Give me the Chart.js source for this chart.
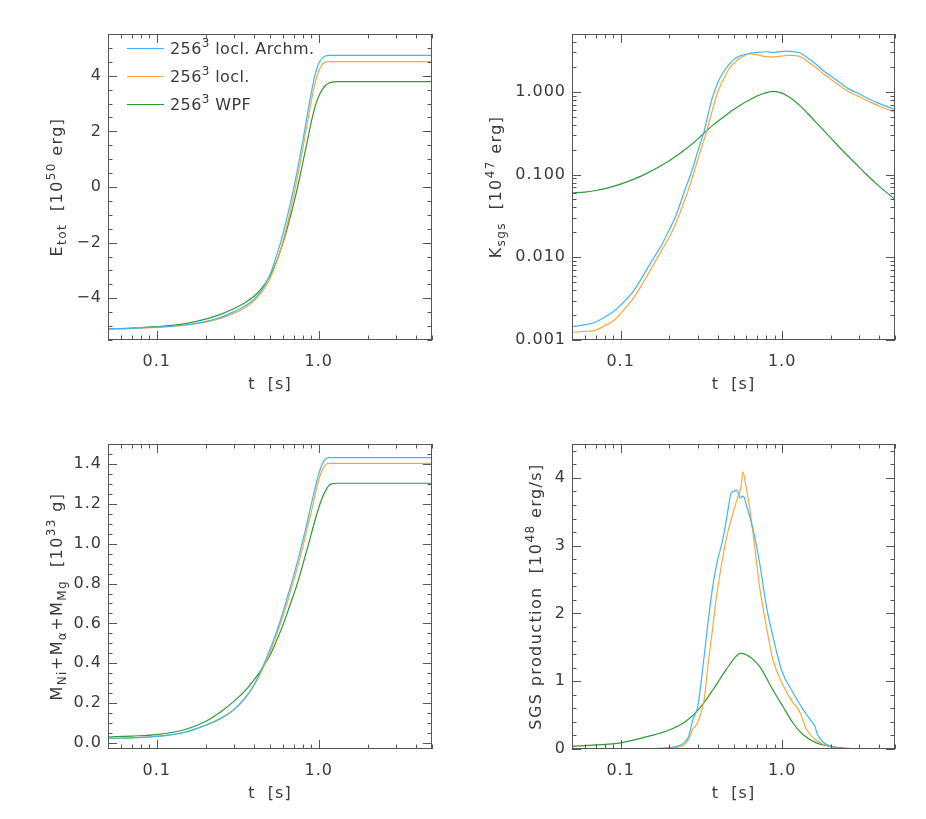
<!DOCTYPE html>
<html>
<head>
<meta charset="utf-8">
<script src="https://cdn.jsdelivr.net/npm/chart.js@4.4.1/dist/chart.umd.min.js"></script>
<style>
  body { margin: 0; background: #fff; }
  #wrap { position: relative; width: 926px; height: 819px; }
  canvas { position: absolute; }
</style>
</head>
<body>
<div id="wrap">
  <canvas id="cE" width="463" height="400" style="left:0;top:0"></canvas>
  <canvas id="cK" width="463" height="400" style="left:463px;top:0"></canvas>
  <canvas id="cM" width="463" height="419" style="left:0;top:400px"></canvas>
  <canvas id="cS" width="463" height="419" style="left:463px;top:400px"></canvas>
</div>
<script>
// series names and colours
const runLabels = ['256^{3} locl. Archm.', '256^{3} locl.', '256^{3} WPF'];
const runColors = ['#3db8f5', '#ffa53c', '#2f9a33'];

// time grid for total energy and burnt mass (s)
const tGrid = [0.05, 0.07, 0.1, 0.15, 0.2, 0.25, 0.3, 0.35, 0.4, 0.45, 0.5, 0.55, 0.6, 0.65, 0.7,
               0.75, 0.8, 0.85, 0.9, 0.95, 1.0, 1.05, 1.1, 1.15, 1.2, 1.3, 1.5, 2, 3, 5];

// E_tot [1e50 erg]
const eArchm = [-5.10, -5.08, -5.04, -4.96, -4.84, -4.68, -4.48, -4.28, -4.02, -3.66, -3.15, -2.45, -1.70, -0.88, -0.05,
                0.82, 1.70, 2.60, 3.40, 4.05, 4.45, 4.63, 4.71, 4.73, 4.73, 4.73, 4.73, 4.73, 4.73, 4.73];
const eLocl  = [-5.10, -5.08, -5.05, -4.97, -4.86, -4.72, -4.54, -4.34, -4.08, -3.74, -3.30, -2.68, -1.95, -1.15, -0.32,
                0.55, 1.42, 2.30, 3.10, 3.75, 4.17, 4.40, 4.49, 4.51, 4.51, 4.51, 4.51, 4.51, 4.51, 4.51];
const eWPF   = [-5.10, -5.07, -5.02, -4.91, -4.75, -4.57, -4.37, -4.16, -3.92, -3.60, -3.20, -2.66, -2.02, -1.32, -0.60,
                0.15, 0.92, 1.65, 2.35, 2.90, 3.26, 3.50, 3.65, 3.73, 3.77, 3.79, 3.79, 3.79, 3.79, 3.79];

// M_Ni + M_alpha + M_Mg [1e33 g]
const mArchm = [0.023, 0.026, 0.033, 0.055, 0.090, 0.125, 0.170, 0.225, 0.295, 0.380, 0.470, 0.560, 0.655, 0.750, 0.840,
                0.930, 1.020, 1.110, 1.200, 1.280, 1.350, 1.400, 1.425, 1.432, 1.432, 1.432, 1.432, 1.432, 1.432, 1.432];
const mLocl  = [0.023, 0.026, 0.033, 0.054, 0.088, 0.122, 0.167, 0.222, 0.290, 0.370, 0.455, 0.545, 0.635, 0.725, 0.815,
                0.900, 0.990, 1.080, 1.160, 1.245, 1.320, 1.370, 1.395, 1.403, 1.403, 1.403, 1.403, 1.403, 1.403, 1.403];
const mWPF   = [0.030, 0.035, 0.042, 0.068, 0.108, 0.158, 0.210, 0.262, 0.318, 0.377, 0.440, 0.515, 0.590, 0.670, 0.745,
                0.820, 0.900, 0.975, 1.050, 1.120, 1.180, 1.230, 1.265, 1.290, 1.300, 1.303, 1.303, 1.303, 1.303, 1.303];

// K_sgs [1e47 erg]
const tK = [0.05, 0.06, 0.07, 0.08, 0.09, 0.1, 0.12, 0.14, 0.16, 0.18, 0.2, 0.22, 0.25, 0.28, 0.3, 0.33, 0.35, 0.37,
            0.4, 0.43, 0.47, 0.5, 0.55, 0.63, 0.7, 0.8, 0.88, 0.95, 1.06, 1.15, 1.28, 1.45, 1.63, 1.8, 2.07, 2.4,
            2.62, 3.0, 3.33, 4.0, 5.0];
const kArchm = [0.00145, 0.00152, 0.00165, 0.0019, 0.0022, 0.00264, 0.0039, 0.0063, 0.0098, 0.0142, 0.0214, 0.032,
                0.065, 0.12, 0.19, 0.34, 0.56, 0.85, 1.3, 1.7, 2.15, 2.45, 2.72, 2.91, 3.0, 3.05, 2.98, 3.04, 3.1,
                3.08, 2.97, 2.55, 2.14, 1.8, 1.48, 1.2, 1.07, 0.95, 0.85, 0.72, 0.61];
const kLocl  = [0.00124, 0.00127, 0.00131, 0.0015, 0.0017, 0.0021, 0.0032, 0.0052, 0.0082, 0.0122, 0.0175, 0.026,
                0.05, 0.095, 0.15, 0.27, 0.4, 0.6, 1.0, 1.38, 1.9, 2.2, 2.55, 2.9, 2.8, 2.66, 2.63, 2.68, 2.75,
                2.76, 2.68, 2.3, 1.95, 1.65, 1.35, 1.1, 0.99, 0.87, 0.79, 0.67, 0.566];
const kWPF   = [0.06, 0.0614, 0.0641, 0.0676, 0.0718, 0.0765, 0.0874, 0.0998, 0.114, 0.1296, 0.147, 0.166, 0.2, 0.238, 0.268,
                0.32, 0.355, 0.39, 0.44, 0.49, 0.56, 0.61, 0.69, 0.8, 0.89, 0.98, 1.01, 0.99, 0.91, 0.82, 0.69,
                0.54, 0.425, 0.345, 0.258, 0.19, 0.16, 0.123, 0.1, 0.072, 0.05];

// SGS production [1e48 erg/s]
const tSArchm = [0.05, 0.1, 0.15, 0.2, 0.23, 0.25, 0.265, 0.28, 0.3, 0.323, 0.345, 0.372, 0.4, 0.43, 0.46, 0.484,
                 0.5, 0.52, 0.535, 0.55, 0.565, 0.58, 0.6, 0.63, 0.66, 0.725, 0.8, 0.877, 1.0, 1.17, 1.35, 1.55,
                 1.6, 1.65, 1.8, 2.0, 2.3, 3.0, 5.0];
const sArchm  = [0, 0, 0.005, 0.02, 0.05, 0.1, 0.2, 0.43, 0.62, 1.2, 1.8, 2.4, 2.8, 3.1, 3.5, 3.78,
                 3.8, 3.82, 3.78, 3.7, 3.73, 3.72, 3.6, 3.43, 3.25, 2.75, 2.1, 1.66, 1.14, 0.83, 0.58, 0.38,
                 0.33, 0.22, 0.1, 0.04, 0.01, 0, 0];
const tSLocl  = [0.05, 0.1, 0.2, 0.23, 0.25, 0.265, 0.28, 0.29, 0.31, 0.33, 0.347, 0.37, 0.39, 0.42, 0.45, 0.496,
                 0.532, 0.555, 0.572, 0.59, 0.614, 0.66, 0.725, 0.8, 0.877, 1.0, 1.17, 1.25, 1.31, 1.41, 1.6,
                 1.8, 2.07, 2.5, 5.0];
const sLocl   = [0, 0, 0.01, 0.03, 0.07, 0.15, 0.3, 0.33, 0.48, 0.75, 1.22, 1.75, 2.2, 2.7, 3.09, 3.48,
                 3.72, 3.85, 4.09, 3.95, 3.72, 3.19, 2.4, 1.8, 1.32, 0.97, 0.68, 0.6, 0.5, 0.3, 0.14,
                 0.07, 0.03, 0.005, 0];
const tSWPF   = [0.05, 0.07, 0.1, 0.15, 0.2, 0.254, 0.308, 0.372, 0.45, 0.52, 0.55, 0.6, 0.725, 0.877, 1.01,
                 1.17, 1.35, 1.63, 1.97, 2.5, 3.0, 5.0];
const sWPF    = [0.04, 0.06, 0.09, 0.19, 0.28, 0.41, 0.6, 0.87, 1.17, 1.37, 1.41, 1.39, 1.22, 0.87, 0.63,
                 0.38, 0.21, 0.09, 0.04, 0.01, 0.002, 0];

// tick labels
const tTicks = [0.1, 1];
const eTicks = [-4, -2, 0, 2, 4];
const kTicks = [0.001, 0.01, 0.1, 1];
const mTicks = [0, 0.2, 0.4, 0.6, 0.8, 1.0, 1.2, 1.4];
const sTicks = [0, 1, 2, 3, 4];

const FONT = '"DejaVu Sans"';
const INK = '#3a3a3a';

function parseRich(str) {
    const segs = [];
    let buf = '';
    for (let i = 0; i < str.length; i++) {
        const c = str[i];
        if ((c === '_' || c === '^') && str[i + 1] === '{') {
            if (buf) segs.push({ t: buf, k: 0 });
            buf = '';
            const end = str.indexOf('}', i);
            segs.push({ t: str.slice(i + 2, end), k: c === '_' ? -1 : 1 });
            i = end;
        } else {
            buf += c;
        }
    }
    if (buf) segs.push({ t: buf, k: 0 });
    return segs;
}

// draws text with _{sub} and ^{sup}; y is the baseline
function drawRich(ctx, str, x, y, size, align, spacing) {
    const segs = parseRich(str);
    const fontFor = k => (k ? Math.round(size * 0.72) : size) + 'px ' + FONT;
    ctx.letterSpacing = (spacing || 0) + 'px';
    let w = 0;
    segs.forEach(s => { ctx.font = fontFor(s.k); s.w = ctx.measureText(s.t).width; w += s.w; });
    let cx = align === 'center' ? x - w / 2 : x;
    ctx.textAlign = 'left';
    ctx.textBaseline = 'alphabetic';
    segs.forEach(s => {
        ctx.font = fontFor(s.k);
        const dy = s.k === 1 ? -size * 0.45 : (s.k === -1 ? size * 0.28 : 0);
        ctx.fillText(s.t, cx, y + dy);
        cx += s.w;
    });
    ctx.letterSpacing = '0px';
}

function tickList(min, max, log, major, minor) {
    const out = [];
    if (log) {
        for (let d = Math.floor(Math.log10(min)); d <= Math.ceil(Math.log10(max)); d++) {
            for (let m = 1; m <= 9; m++) {
                const v = m * Math.pow(10, d);
                if (v >= min * 0.999 && v <= max * 1.001) out.push([v, m === 1]);
            }
        }
    } else {
        const start = Math.ceil(min / minor - 1e-6) * minor;
        for (let v = start; v <= max + 1e-9; v += minor) {
            const r = Math.abs(v / major - Math.round(v / major)) < 1e-6;
            out.push([v, r]);
        }
    }
    return out;
}

// box, inward ticks on all sides, axis titles and legend
const frame = {
    id: 'frame',
    beforeDraw(chart) {
        chart.ctx.letterSpacing = '1px';
    },
    afterDatasetsDraw(chart, args, o) {
        const { ctx, chartArea: a, scales: { x, y } } = chart;
        ctx.save();
        ctx.strokeStyle = '#555';
        ctx.lineWidth = 1;
        ctx.strokeRect(a.left + 0.5, a.top + 0.5, a.width - 1, a.height - 1);
        ctx.beginPath();
        tickList(x.min, x.max, true).forEach(([v, big]) => {
            const px = Math.round(x.getPixelForValue(v)) + 0.5;
            const len = big ? 9 : 4.5;
            ctx.moveTo(px, a.bottom); ctx.lineTo(px, a.bottom - len);
            ctx.moveTo(px, a.top); ctx.lineTo(px, a.top + len);
        });
        tickList(y.min, y.max, o.yLog, o.yMajor, o.yMinor).forEach(([v, big]) => {
            const py = Math.round(y.getPixelForValue(v)) + 0.5;
            const len = big ? 9 : 4.5;
            ctx.moveTo(a.left, py); ctx.lineTo(a.left + len, py);
            ctx.moveTo(a.right, py); ctx.lineTo(a.right - len, py);
        });
        ctx.stroke();

        ctx.fillStyle = INK;
        drawRich(ctx, 't  [s]', (a.left + a.right) / 2, a.bottom + 49, 16, 'center', 1);
        ctx.save();
        ctx.translate(a.left - o.yTitleGap, (a.top + a.bottom) / 2);
        ctx.rotate(-Math.PI / 2);
        drawRich(ctx, o.yTitle, 0, 6, 16, 'center', 1.4);
        ctx.restore();

        if (o.legend) {
            chart.data.datasets.forEach((ds, i) => {
                const ly = a.top + 14 + i * 28;
                ctx.strokeStyle = ds.borderColor;
                ctx.lineWidth = 1.2;
                ctx.beginPath();
                ctx.moveTo(a.left + 19, ly + 0.5);
                ctx.lineTo(a.left + 56, ly + 0.5);
                ctx.stroke();
                ctx.fillStyle = INK;
                drawRich(ctx, runLabels[i], a.left + 62, ly + 6, 16, 'left', 0.4);
            });
        }
        ctx.restore();
    }
};

function makeChart(id, cfg) {
    const sets = cfg.series.map((s, i) => ({
        label: runLabels[i],
        data: s.t.map((t, j) => ({ x: t, y: s.v[j] })),
        borderColor: runColors[i],
        borderWidth: 1.2,
        pointRadius: 0,
        fill: false,
        cubicInterpolationMode: 'monotone'
    }));
    new Chart(document.getElementById(id), {
        type: 'line',
        data: { datasets: sets },
        options: {
            responsive: false,
            animation: false,
            events: [],
            layout: { padding: { top: cfg.padTop, right: 31, left: 0, bottom: 0 } },
            plugins: {
                legend: { display: false },
                tooltip: { enabled: false },
                frame: { yTitle: cfg.yTitle, yTitleGap: cfg.yTitleGap, yLog: cfg.yLog,
                         yMajor: cfg.yMajor, yMinor: cfg.yMinor, legend: cfg.legend }
            },
            scales: {
                x: {
                    type: 'logarithmic', min: 0.05, max: 5,
                    afterFit: s => { s.height = cfg.xHeight; },
                    afterBuildTicks: s => { s.ticks = tTicks.map(v => ({ value: v })); },
                    ticks: { callback: v => v.toFixed(1), padding: 12, maxRotation: 0, autoSkip: false,
                             font: { family: FONT, size: 16 }, color: INK },
                    grid: { display: false, drawTicks: false },
                    border: { display: false }
                },
                y: {
                    type: cfg.yLog ? 'logarithmic' : 'linear', min: cfg.yMin, max: cfg.yMax,
                    afterFit: s => { s.width = cfg.yWidth; },
                    afterBuildTicks: s => { s.ticks = cfg.yTicks.map(v => ({ value: v })); },
                    ticks: { callback: cfg.yFmt, padding: 6, autoSkip: false,
                             font: { family: FONT, size: 16 }, color: INK },
                    grid: { display: false, drawTicks: false },
                    border: { display: false }
                }
            }
        },
        plugins: [frame]
    });
}

const minus = v => (v < 0 ? '\u2212' : '') + Math.abs(v);

makeChart('cE', {
    series: [{ t: tGrid, v: eArchm }, { t: tGrid, v: eLocl }, { t: tGrid, v: eWPF }],
    yMin: -5.5, yMax: 5.5, yTicks: eTicks, yMajor: 2, yMinor: 0.5, yFmt: minus,
    yTitle: 'E_{tot}  [10^{50} erg]', yTitleGap: 52,
    yWidth: 108, padTop: 34, xHeight: 60, legend: true
});
makeChart('cK', {
    series: [{ t: tK, v: kArchm }, { t: tK, v: kLocl }, { t: tK, v: kWPF }],
    yLog: true, yMin: 0.001, yMax: 5, yTicks: kTicks, yFmt: v => v.toFixed(3),
    yTitle: 'K_{sgs}  [10^{47} erg]', yTitleGap: 77,
    yWidth: 109, padTop: 34, xHeight: 60
});
makeChart('cM', {
    series: [{ t: tGrid, v: mArchm }, { t: tGrid, v: mLocl }, { t: tGrid, v: mWPF }],
    yMin: -0.03, yMax: 1.5, yTicks: mTicks, yMajor: 0.2, yMinor: 0.05, yFmt: v => v.toFixed(1),
    yTitle: 'M_{Ni}+M_{\u03b1}+M_{Mg}  [10^{33} g]', yTitleGap: 52,
    yWidth: 108, padTop: 44, xHeight: 70
});
makeChart('cS', {
    series: [{ t: tSArchm, v: sArchm }, { t: tSLocl, v: sLocl }, { t: tSWPF, v: sWPF }],
    yMin: 0, yMax: 4.5, yTicks: sTicks, yMajor: 1, yMinor: 0.2, yFmt: v => String(v),
    yTitle: 'SGS production  [10^{48} erg/s]', yTitleGap: 37,
    yWidth: 109, padTop: 44, xHeight: 70
});
</script>
</body>
</html>
